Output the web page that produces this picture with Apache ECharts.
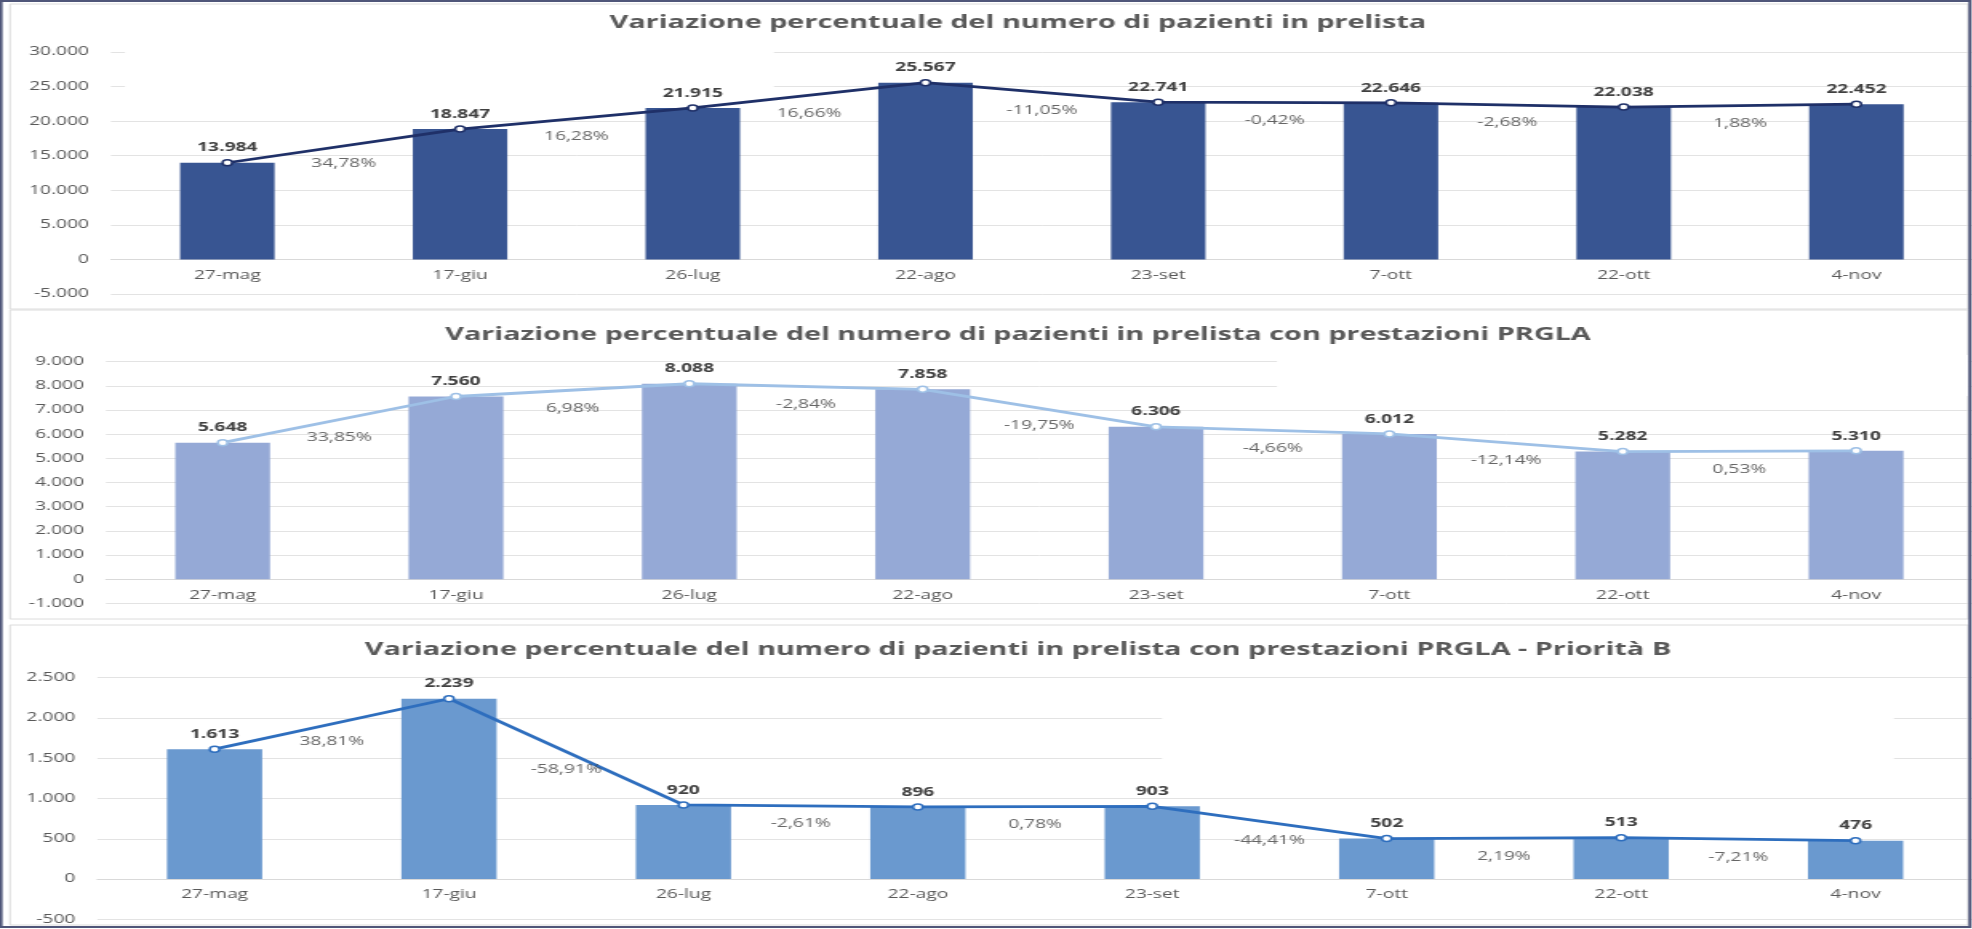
<!DOCTYPE html>
<html>
<head>
<meta charset="utf-8">
<script src="https://cdn.jsdelivr.net/npm/echarts@6/dist/echarts.min.js"></script>
<style>
html,body{margin:0;padding:0;background:#fff;overflow:hidden}
#wrap{width:1972px;height:929px;overflow:hidden;position:relative;background:#fff}
#chart{height:929px;transform-origin:0 0}
</style>
</head>
<body>
<div id="wrap"><div id="chart"></div></div>
<script>
// ---------- data ----------
const categories = ['27-mag', '17-giu', '26-lug', '22-ago', '23-set', '7-ott', '22-ott', '4-nov'];

const totalPatients = [13984, 18847, 21915, 25567, 22741, 22646, 22038, 22452];
const totalChange   = [34.78, 16.28, 16.66, -11.05, -0.42, -2.68, 1.88];

const prglaPatients = [5648, 7560, 8088, 7858, 6306, 6012, 5282, 5310];
const prglaChange   = [33.85, 6.98, -2.84, -19.75, -4.66, -12.14, 0.53];

const prioBPatients = [1613, 2239, 920, 896, 903, 502, 513, 476];
const prioBChange   = [38.81, -58.91, -2.61, 0.78, -44.41, 2.19, -7.21];

const totalTicks = [-5000, 0, 5000, 10000, 15000, 20000, 25000, 30000];
const prglaTicks = [-1000, 0, 1000, 2000, 3000, 4000, 5000, 6000, 7000, 8000, 9000];
const prioBTicks = [-500, 0, 500, 1000, 1500, 2000, 2500];

const titles = [
  'Variazione percentuale del numero di pazienti in prelista',
  'Variazione percentuale del numero di pazienti in prelista con prestazioni PRGLA',
  'Variazione percentuale del numero di pazienti in prelista con prestazioni PRGLA - Priorità B'
];

// ---------- layout ----------
const S = 1.6;                 // horizontal stretch of the reference picture
const W = 1972 / S;
const X = px => px / S;
const FONT = "'Open Sans', 'Noto Sans', sans-serif";

const el = document.getElementById('chart');
el.style.width = W + 'px';
el.style.transform = 'scaleX(' + S + ')';

function fmtInt(n) {
  const s = String(Math.abs(Math.round(n))).replace(/\B(?=(\d{3})+(?!\d))/g, '.');
  return (n < 0 ? '-' : '') + s;
}
function fmtPct(n) {
  return n.toFixed(2).replace('.', ',') + '%';
}

const panels = [
  { title: titles[0], values: totalPatients, change: totalChange, ticks: totalTicks,
    bar: '#385592', line: '#1F3068', left: 111, width: 1870, top: 52, height: 242, titleY: 21 },
  { title: titles[1], values: prglaPatients, change: prglaChange, ticks: prglaTicks,
    bar: '#95A9D6', line: '#9EC0E6', left: 106, width: 1875, top: 361.7, height: 241.6, titleY: 333 },
  { title: titles[2], values: prioBPatients, change: prioBChange, ticks: prioBTicks,
    bar: '#6A99CF', line: '#2E6EBE', left: 97.4, width: 1882, top: 677.7, height: 241.6, titleY: 648 }
];

const grid = [], xAxis = [], yAxis = [], series = [], title = [];

panels.forEach((p, i) => {
  const yMin = p.ticks[0], yMax = p.ticks[p.ticks.length - 1];
  // distance from the bottom of the plot to the zero line (category axis sits on zero)
  const zeroLift = p.height * (0 - yMin) / (yMax - yMin);

  grid.push({ left: X(p.left), width: X(p.width), top: p.top, height: p.height, containLabel: false });

  title.push({
    text: p.title, left: X(1010), top: p.titleY - 12, textAlign: 'center',
    textStyle: { fontFamily: FONT, fontSize: 18, fontWeight: 'bold', color: '#595959' }
  });

  xAxis.push({
    type: 'category', gridIndex: i, data: categories, position: 'bottom',
    offset: -zeroLift,
    axisLine: { onZero: false, lineStyle: { color: '#d9d9d9', width: 1 } },
    axisTick: { show: false },
    axisLabel: { color: '#595959', fontSize: 12, fontFamily: FONT, margin: 10 },
    splitLine: { show: false }
  });
  // helper axis to place the change labels between categories
  xAxis.push({ type: 'value', gridIndex: i, min: 0, max: categories.length, show: false, position: 'top' });

  yAxis.push({
    type: 'value', gridIndex: i,
    min: yMin, max: yMax, interval: p.ticks[1] - p.ticks[0],
    axisLine: { show: false }, axisTick: { show: false },
    axisLabel: { color: '#595959', fontSize: 12, fontFamily: FONT, margin: X(22), formatter: v => fmtInt(v) },
    splitLine: { lineStyle: { color: '#e3e3e3', width: 1 } }
  });

  series.push({
    type: 'bar', xAxisIndex: 2 * i, yAxisIndex: i, data: p.values,
    barWidth: '40.6%', itemStyle: { color: p.bar }, z: 2
  });
  series.push({
    type: 'line', xAxisIndex: 2 * i, yAxisIndex: i, data: p.values,
    symbol: 'circle', symbolSize: 6,
    lineStyle: { color: p.line, width: 2.8 },
    itemStyle: { color: '#ffffff', borderColor: p.line, borderWidth: 1.5 },
    label: {
      show: true, position: 'top', distance: 5,
      color: '#404040', fontWeight: 'bold', fontSize: 12, fontFamily: FONT,
      formatter: d => fmtInt(d.value)
    },
    z: 4
  });
  series.push({
    type: 'scatter', xAxisIndex: 2 * i + 1, yAxisIndex: i,
    data: p.change.map((c, k) => [k + 1, (p.values[k] + p.values[k + 1]) / 2, c]),
    symbolSize: 1, itemStyle: { color: 'rgba(0,0,0,0)' },
    label: {
      show: true, position: 'inside', offset: [0, 18],
      color: '#404040', fontSize: 12, fontFamily: FONT,
      formatter: d => fmtPct(d.value[2])
    },
    silent: true, z: 5
  });
});

// white patches of the original picture that hide parts of some grid lines
const mask = (x0, y0, x1, y1) => ({
  type: 'rect', z: 1, silent: true,
  shape: { x: X(x0), y: y0, width: X(x1 - x0), height: y1 - y0 },
  style: { fill: '#ffffff', stroke: null }
});

const chart = echarts.init(el, null, { renderer: 'canvas' });
chart.setOption({
  animation: false,
  backgroundColor: '#ffffff',
  textStyle: { fontFamily: FONT },
  title, grid, xAxis, yAxis, series,
  graphic: [
    mask(125, 45, 774, 97),
    mask(1277, 355, 1968, 396),
    mask(1162, 710, 1894, 765),
    { type: 'rect', z: -10, shape: { x: X(10), y: 4, width: X(1958), height: 305 },
      style: { fill: 'none', stroke: '#dcdcdc', lineWidth: 1 } },
    { type: 'rect', z: -10, shape: { x: X(10), y: 310, width: X(1958), height: 309 },
      style: { fill: 'none', stroke: '#dcdcdc', lineWidth: 1 } },
    { type: 'rect', z: -10, shape: { x: X(10), y: 625, width: X(1958), height: 300 },
      style: { fill: 'none', stroke: '#dcdcdc', lineWidth: 1 } },
    { type: 'rect', z: 10, shape: { x: X(1), y: 1, width: X(1969), height: 926 },
      style: { fill: 'none', stroke: '#4f5679', lineWidth: 2 } }
  ]
});
</script>
</body>
</html>
